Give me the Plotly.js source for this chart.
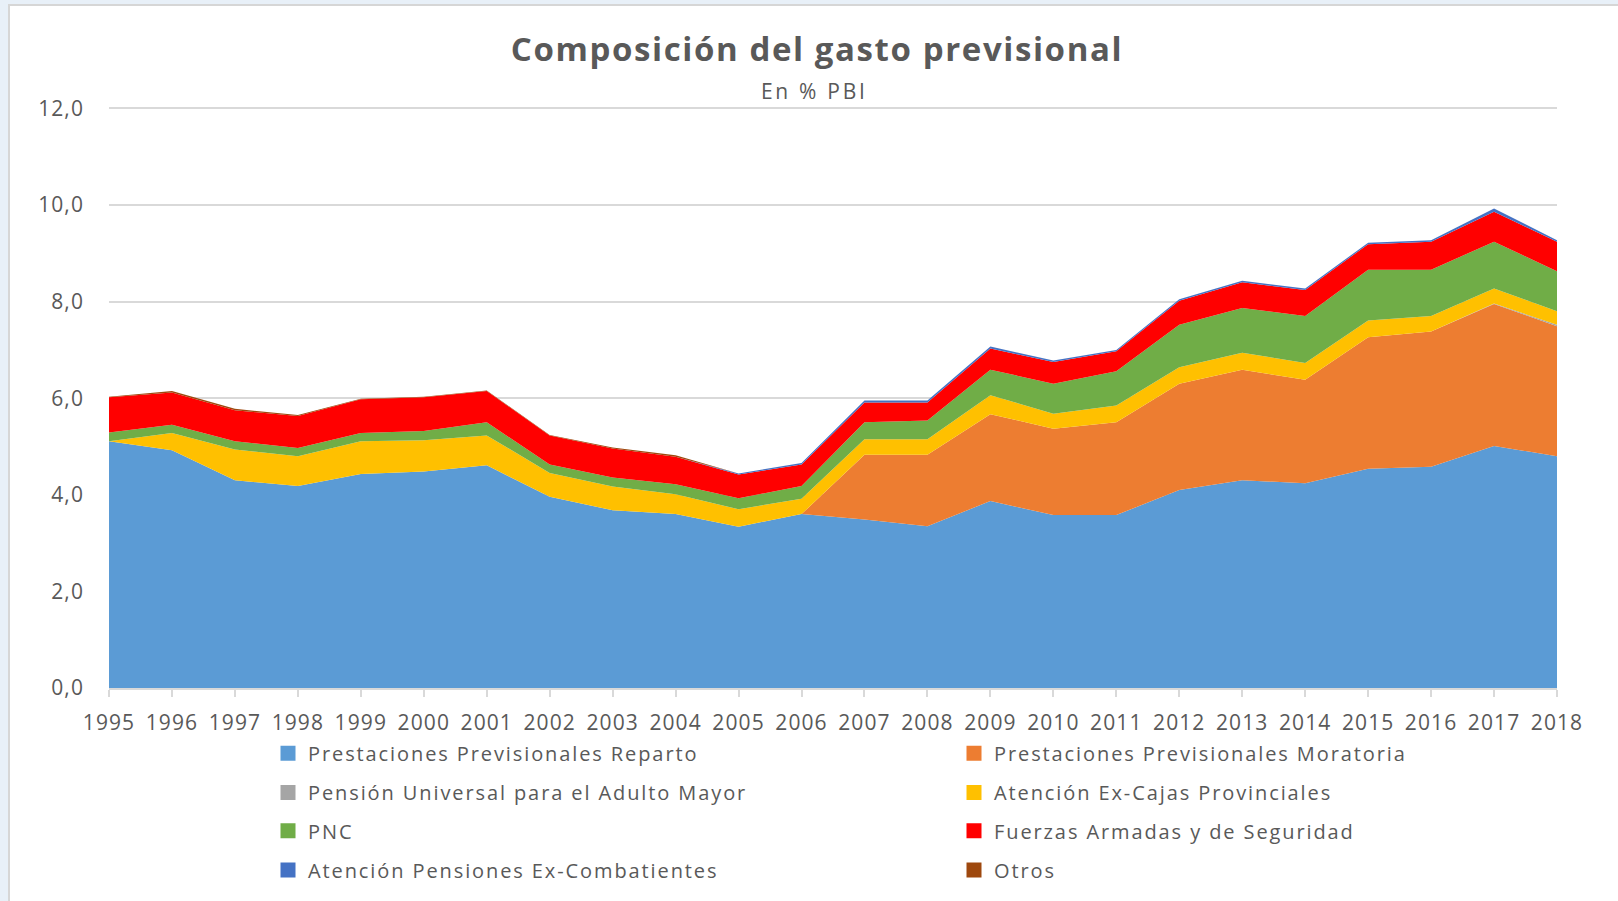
<!DOCTYPE html>
<html>
<head>
<meta charset="utf-8">
<script src="https://cdn.plot.ly/plotly-3.0.1.min.js"></script>
<style>
  html, body { margin: 0; padding: 0; width: 1618px; height: 901px; overflow: hidden; background: #E8F0F8; }
  #frame { position: absolute; left: 8px; top: 4px; border-left: 2px solid #D6D6D6; border-top: 2px solid #D6D6D6; background: #fff; }
  #chart { width: 1608px; height: 895px; }
  .legendtext, .legend2text, .legend3text, .legend4text,
  .legend5text, .legend6text, .legend7text, .legend8text { letter-spacing: 1.9px; }
  .xtick text, .ytick text { letter-spacing: 1.1px; }
  .gtitle { letter-spacing: 1.6px; }
  .annotation-text { letter-spacing: 2.7px; }
</style>
</head>
<body>
<div id="frame"><div id="chart"></div></div>
<script>
// ---- Data (% del PBI) ----
const years = [1995,1996,1997,1998,1999,2000,2001,2002,2003,2004,2005,2006,2007,2008,2009,2010,2011,2012,2013,2014,2015,2016,2017,2018];

const seriesNames = [
  "Prestaciones Previsionales Reparto",
  "Prestaciones Previsionales Moratoria",
  "Pensión Universal para el Adulto Mayor",
  "Atención Ex-Cajas Provinciales",
  "PNC",
  "Fuerzas Armadas y de Seguridad",
  "Atención Pensiones Ex-Combatientes",
  "Otros"
];

const reparto   = [5.11,4.92,4.30,4.18,4.43,4.48,4.61,3.96,3.68,3.60,3.34,3.60,3.49,3.35,3.87,3.58,3.58,4.10,4.30,4.24,4.54,4.58,5.01,4.80];
const moratoria = [0,0,0,0,0,0,0,0,0,0,0,0,1.34,1.48,1.80,1.79,1.92,2.20,2.29,2.14,2.72,2.80,2.94,2.69];
const puam      = [0,0,0,0,0,0,0,0,0,0,0,0,0,0,0,0,0,0,0,0,0,0,0.01,0.03];
const exCajas   = [0,0.36,0.64,0.62,0.68,0.65,0.62,0.49,0.49,0.41,0.36,0.32,0.32,0.32,0.39,0.31,0.35,0.34,0.35,0.35,0.35,0.32,0.31,0.28];
const pnc       = [0.18,0.17,0.17,0.17,0.17,0.19,0.27,0.18,0.19,0.21,0.23,0.26,0.35,0.39,0.53,0.62,0.71,0.88,0.93,0.97,1.05,0.96,0.97,0.83];
const ffaa      = [0.73,0.67,0.64,0.66,0.70,0.70,0.65,0.60,0.60,0.57,0.49,0.45,0.41,0.37,0.44,0.45,0.41,0.50,0.53,0.54,0.53,0.58,0.62,0.61];
const exCombat  = [0,0,0,0,0,0,0,0,0,0,0.02,0.03,0.04,0.04,0.04,0.03,0.03,0.03,0.03,0.03,0.03,0.03,0.07,0.03];
const otros     = [0.01,0.03,0.03,0.02,0.01,0.01,0.01,0.01,0.02,0.03,0,0,0,0,0,0,0,0,0,0,0,0,0,0];

const seriesValues = [reparto, moratoria, puam, exCajas, pnc, ffaa, exCombat, otros];
const colors = ["#5B9BD5","#ED7D31","#A5A5A5","#FFC000","#70AD47","#FF0000","#4472C4","#9E480E"];

// legend slots: [column, row]
const legendSlots = [[0,0],[1,0],[0,1],[1,1],[0,2],[1,2],[0,3],[1,3]];

// ---- Layout constants ----
const W = 1608, H = 895;
const ML = 99, MR = 61, MT = 100, MB = 213;
const PW = W - ML - MR, PH = H - MT - MB;
const YMAX = 12.05;
const TXT = "#595959";
const FONT = "Open Sans, DejaVu Sans, sans-serif";

const traces = [];
seriesValues.forEach((vals, i) => {
  traces.push({
    type: "scatter", mode: "none", x: years, y: vals,
    stackgroup: "one", fill: "tonexty", fillcolor: colors[i],
    line: {width: 0, color: colors[i]},
    name: seriesNames[i], showlegend: false, hoverinfo: "skip"
  });
});
// legend-only marker entries (square swatches)
seriesValues.forEach((vals, i) => {
  traces.push({
    type: "scatter", mode: "markers", x: [null], y: [null],
    marker: {symbol: "square", size: 15, color: colors[i]},
    name: seriesNames[i], showlegend: true,
    legend: i === 0 ? "legend" : "legend" + (i + 1), hoverinfo: "skip"
  });
});

const colX = [258, 944];          // px in container (legend box left)
const rowY = [747.3, 786.5, 824.7, 863.9];

const layout = {
  width: W, height: H,
  paper_bgcolor: "#ffffff", plot_bgcolor: "#ffffff",
  separators: ",.",
  font: {family: FONT, color: TXT, size: 21},
  margin: {l: ML, r: MR, t: MT, b: MB, pad: 0, autoexpand: false},
  title: {
    text: "<b>Composición del gasto previsional</b>",
    font: {family: FONT, size: 33, color: TXT},
    xref: "container", x: 807 / W, xanchor: "center",
    yref: "container", y: 1 - 43.5 / H, yanchor: "middle"
  },
  annotations: [{
    text: "En % PBI", showarrow: false,
    xref: "paper", yref: "paper",
    x: (804 - ML) / PW, y: (MT + PH - 85) / PH,
    xanchor: "center", yanchor: "middle",
    font: {family: FONT, size: 21, color: TXT}
  }],
  xaxis: {
    type: "linear", range: [1995, 2018], dtick: 1, tick0: 1995,
    tickformat: "d", tickangle: 0, showgrid: false, zeroline: false,
    showline: true, linecolor: "#D9D9D9", linewidth: 2,
    ticks: "outside", ticklen: 7, tickwidth: 2, tickcolor: "#D9D9D9",
    ticklabelstandoff: 8,
    tickfont: {family: FONT, size: 21, color: TXT}, fixedrange: true,
    automargin: false
  },
  yaxis: {
    range: [0, YMAX], dtick: 2, tick0: 0, tickformat: ".1f",
    showgrid: true, gridcolor: "#D9D9D9", gridwidth: 2,
    zeroline: false, showline: false, ticks: "",
    ticklabelstandoff: 24,
    tickfont: {family: FONT, size: 21, color: TXT}, fixedrange: true,
    automargin: false
  },
  showlegend: true
};

legendSlots.forEach((slot, i) => {
  const key = i === 0 ? "legend" : "legend" + (i + 1);
  layout[key] = {
    xref: "paper", yref: "paper",
    x: (colX[slot[0]] - ML) / PW, y: (MT + PH - rowY[slot[1]]) / PH,
    xanchor: "left", yanchor: "middle",
    orientation: "v", bgcolor: "rgba(0,0,0,0)", borderwidth: 0,
    itemwidth: 30,
    font: {family: FONT, size: 20, color: TXT}
  };
});

Plotly.newPlot("chart", traces, layout, {displayModeBar: false, staticPlot: true});
</script>
</body>
</html>
